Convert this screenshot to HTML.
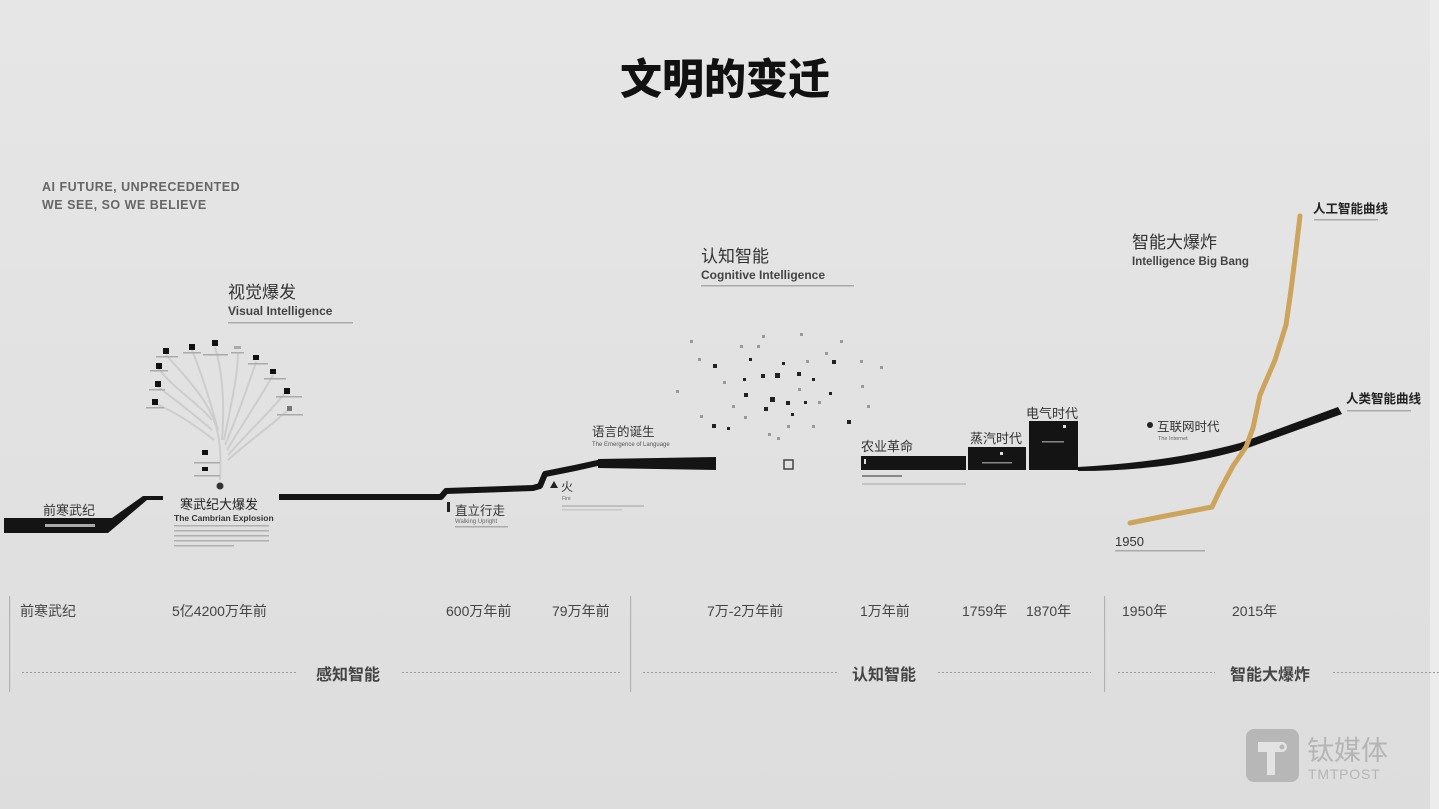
<!DOCTYPE html>
<html><head><meta charset="utf-8">
<style>
html,body{margin:0;padding:0;}
body{width:1439px;height:809px;overflow:hidden;background:linear-gradient(#e6e6e6,#e2e2e2 50%,#dddddd);font-family:"Liberation Sans","Noto Sans CJK SC",sans-serif;}
svg{display:block;}
.cn{font-family:"Liberation Sans","Noto Sans CJK SC",sans-serif;}
</style></head>
<body>
<svg width="1439" height="809" viewBox="0 0 1439 809" xmlns="http://www.w3.org/2000/svg">
<rect x="1430" y="0" width="9" height="809" fill="#ececec"/>
<!-- Title -->
<text x="725" y="94" text-anchor="middle" class="cn" font-size="42" font-weight="900" fill="#111">文明的变迁</text>

<!-- slogan -->
<text x="42" y="191" font-size="12.5" font-weight="bold" fill="#666" letter-spacing="0.5">AI FUTURE, UNPRECEDENTED</text>
<text x="42" y="209" font-size="12.5" font-weight="bold" fill="#666" letter-spacing="0.5">WE SEE, SO WE BELIEVE</text>

<!-- Visual intelligence heading -->
<text x="228" y="298" class="cn" font-size="17" fill="#333">视觉爆发</text>
<text x="228" y="315" font-size="12" font-weight="bold" fill="#444">Visual Intelligence</text>
<rect x="228" y="322" width="125" height="1.5" fill="#aaa"/>

<!-- tree -->
<g stroke="#cdcdcd" stroke-width="2" fill="none">
<path d="M220,480 C222,440 218,420 200,395 C185,375 175,365 166,355"/>
<path d="M218,430 C210,400 200,370 192,350"/>
<path d="M222,440 C225,400 222,370 215,347"/>
<path d="M224,440 C232,400 238,375 238,352"/>
<path d="M225,445 C240,410 250,380 256,362"/>
<path d="M227,450 C245,420 262,395 273,375"/>
<path d="M228,455 C250,430 272,410 285,393"/>
<path d="M228,460 C250,440 272,425 288,410"/>
<path d="M212,420 C195,400 175,390 158,368"/>
<path d="M212,430 C195,415 175,400 157,386"/>
<path d="M214,440 C195,425 175,412 156,404"/>
</g>
<g fill="#111">
<rect x="163" y="348" width="6" height="6"/><rect x="189" y="344" width="6" height="6"/><rect x="212" y="340" width="6" height="6"/><rect x="253" y="355" width="6" height="5"/><rect x="270" y="369" width="6" height="5"/><rect x="284" y="388" width="6" height="6"/><rect x="156" y="363" width="6" height="6"/><rect x="155" y="381" width="6" height="6"/><rect x="152" y="399" width="6" height="6"/><rect x="202" y="450" width="6" height="5"/><rect x="202" y="467" width="6" height="4"/>
</g>
<rect x="234" y="346" width="7" height="3" fill="#aaa"/>
<rect x="287" y="406" width="5" height="5" fill="#777"/>
<g fill="#aaa">
<rect x="156" y="356" width="22" height="1.5"/><rect x="183" y="352" width="18" height="1.5"/><rect x="203" y="354" width="25" height="1.5"/><rect x="231" y="352" width="13" height="1.5"/><rect x="248" y="363" width="20" height="1.5"/><rect x="264" y="378" width="22" height="1.5"/><rect x="276" y="396" width="26" height="1.5"/><rect x="277" y="414" width="26" height="1.5"/><rect x="150" y="370" width="18" height="1.5"/><rect x="149" y="389" width="16" height="1.5"/><rect x="146" y="407" width="18" height="1.5"/><rect x="194" y="462" width="26" height="1.5"/><rect x="194" y="475" width="26" height="1.5"/>
</g>
<circle cx="220" cy="486" r="3.5" fill="#333"/>

<!-- Segment 1 -->
<polygon points="4,518 112,518 143,496 163,496 163,500 147,500 108,533 4,533" fill="#141414"/>
<text x="43" y="515" class="cn" font-size="13" fill="#333">前寒武纪</text>
<rect x="45" y="524" width="50" height="3" fill="#aaa"/>
<text x="180" y="509" class="cn" font-size="13" fill="#222">寒武纪大爆发</text>
<text x="174" y="521" font-size="8.5" font-weight="bold" fill="#333">The Cambrian Explosion</text>
<g fill="#b0b0b0"><rect x="174" y="525" width="95" height="1.5"/><rect x="174" y="530" width="95" height="1.5"/><rect x="174" y="535" width="95" height="1.5"/><rect x="174" y="540" width="95" height="1.5"/><rect x="174" y="545" width="60" height="1.5"/></g>

<!-- Segment 2 -->
<polyline points="279,497 441,497 446,491 533,488 540,486 545,474 575,468 602,462" fill="none" stroke="#141414" stroke-width="6" stroke-linejoin="round"/>
<polygon points="598,459 716,457 716,470 598,468" fill="#141414"/>
<rect x="447" y="502" width="3" height="10" fill="#222"/>
<text x="455" y="515" class="cn" font-size="12.5" fill="#333">直立行走</text>
<text x="455" y="523" font-size="6" fill="#666">Walking Upright</text>
<rect x="455" y="526" width="53" height="1.5" fill="#aaa"/>
<polygon points="550,488 554,481 558,488" fill="#222"/>
<text x="561" y="491" class="cn" font-size="12" fill="#333">火</text>
<text x="562" y="500" font-size="5" fill="#666">Fire</text>
<rect x="562" y="505" width="82" height="2" fill="#c0c0c0"/>
<rect x="562" y="509" width="60" height="1.5" fill="#c8c8c8"/>
<text x="592" y="436" class="cn" font-size="12.5" fill="#333">语言的诞生</text>
<text x="592" y="446" font-size="6" fill="#555">The Emergence of Language</text>

<!-- Cognitive heading -->
<text x="701" y="262" class="cn" font-size="17" fill="#333">认知智能</text>
<text x="701" y="279" font-size="12" font-weight="bold" fill="#444">Cognitive Intelligence</text>
<rect x="701" y="285" width="153" height="1.5" fill="#aaa"/>

<!-- scatter -->
<g fill="#222">
<rect x="775" y="373" width="5" height="5"/><rect x="770" y="397" width="5" height="5"/><rect x="786" y="401" width="4" height="4"/><rect x="761" y="374" width="4" height="4"/><rect x="797" y="372" width="4" height="4"/><rect x="744" y="393" width="4" height="4"/><rect x="749" y="358" width="3" height="3"/><rect x="782" y="362" width="3" height="3"/><rect x="832" y="360" width="4" height="4"/><rect x="713" y="364" width="4" height="4"/><rect x="712" y="424" width="4" height="4"/><rect x="727" y="427" width="3" height="3"/><rect x="847" y="420" width="4" height="4"/><rect x="764" y="407" width="4" height="4"/><rect x="812" y="378" width="3" height="3"/><rect x="829" y="392" width="3" height="3"/><rect x="804" y="401" width="3" height="3"/><rect x="791" y="413" width="3" height="3"/><rect x="743" y="378" width="3" height="3"/>
</g>
<g fill="#999">
<rect x="757" y="345" width="3" height="3"/><rect x="698" y="358" width="3" height="3"/><rect x="723" y="381" width="3" height="3"/><rect x="825" y="352" width="3" height="3"/><rect x="861" y="385" width="3" height="3"/><rect x="676" y="390" width="3" height="3"/><rect x="806" y="360" width="3" height="3"/><rect x="798" y="388" width="3" height="3"/><rect x="818" y="401" width="3" height="3"/><rect x="744" y="416" width="3" height="3"/><rect x="768" y="433" width="3" height="3"/><rect x="777" y="437" width="3" height="3"/><rect x="867" y="405" width="3" height="3"/><rect x="880" y="366" width="3" height="3"/><rect x="700" y="415" width="3" height="3"/><rect x="762" y="335" width="3" height="3"/><rect x="800" y="333" width="3" height="3"/><rect x="840" y="340" width="3" height="3"/><rect x="690" y="340" width="3" height="3"/><rect x="740" y="345" width="3" height="3"/><rect x="860" y="360" width="3" height="3"/><rect x="787" y="425" width="3" height="3"/><rect x="732" y="405" width="3" height="3"/><rect x="812" y="425" width="3" height="3"/>
</g>
<rect x="784" y="460" width="9" height="9" fill="none" stroke="#444" stroke-width="1.5"/>

<!-- Segment 3 -->
<rect x="861" y="456" width="105" height="14" fill="#141414"/>
<rect x="968" y="447" width="58" height="23" fill="#141414"/>
<rect x="1029" y="421" width="49" height="49" fill="#141414"/>
<rect x="864" y="459" width="2" height="5" fill="#ddd"/>
<rect x="1000" y="452" width="3" height="3" fill="#ddd"/>
<rect x="1063" y="425" width="3" height="3" fill="#ddd"/>
<rect x="982" y="462" width="30" height="1.5" fill="#888"/>
<rect x="1042" y="441" width="22" height="1.5" fill="#888"/>
<text x="861" y="451" class="cn" font-size="13" fill="#333">农业革命</text>
<rect x="862" y="475" width="40" height="2" fill="#888"/>
<rect x="862" y="483" width="104" height="2" fill="#c4c4c4"/>
<text x="970" y="443" class="cn" font-size="13" fill="#333">蒸汽时代</text>
<text x="1026" y="418" class="cn" font-size="13" fill="#333">电气时代</text>
<path d="M1078,467 Q1170,462 1240,443 L1338,407 L1342,414 L1245,449 Q1170,471 1078,471 Z" fill="#141414"/>

<!-- gold curve -->
<polyline points="1130,523 1160,517 1212,507 1220,490 1233,466 1246,447 1253,428 1260,395 1275,360 1286,325 1291,290 1296,250 1300,216" fill="none" stroke="#cda45c" stroke-width="5" stroke-linejoin="round" stroke-linecap="round"/>

<circle cx="1150" cy="425" r="3" fill="#222"/>
<text x="1157" y="431" class="cn" font-size="12.5" fill="#333">互联网时代</text>
<text x="1158" y="440" font-size="5.5" fill="#666">The Internet</text>
<text x="1115" y="546" font-size="13" fill="#333">1950</text>
<rect x="1115" y="550" width="90" height="1.5" fill="#aaa"/>
<text x="1132" y="248" class="cn" font-size="17" fill="#333">智能大爆炸</text>
<text x="1132" y="265" font-size="11.5" font-weight="bold" fill="#444">Intelligence Big Bang</text>
<text x="1313" y="213" class="cn" font-size="12.5" font-weight="bold" fill="#222">人工智能曲线</text>
<rect x="1314" y="219" width="64" height="1.5" fill="#aaa"/>
<text x="1346" y="403" class="cn" font-size="12.5" font-weight="bold" fill="#222">人类智能曲线</text>
<rect x="1347" y="410" width="64" height="1.5" fill="#aaa"/>

<!-- Axis -->
<g fill="#b3b3b3">
<rect x="9" y="596" width="1.2" height="96"/>
<rect x="630" y="596" width="1.2" height="96"/>
<rect x="1104" y="596" width="1.2" height="96"/>
</g>
<g class="cn" font-size="14" fill="#444">
<text x="20" y="616">前寒武纪</text>
<text x="172" y="616">5亿4200万年前</text>
<text x="446" y="616">600万年前</text>
<text x="552" y="616">79万年前</text>
<text x="707" y="616">7万-2万年前</text>
<text x="860" y="616">1万年前</text>
<text x="962" y="616">1759年</text>
<text x="1026" y="616">1870年</text>
<text x="1122" y="616">1950年</text>
<text x="1232" y="616">2015年</text>
</g>
<g stroke="#9a9a9a" stroke-width="1" stroke-dasharray="2,2">
<line x1="22" y1="672.5" x2="298" y2="672.5"/>
<line x1="402" y1="672.5" x2="620" y2="672.5"/>
<line x1="643" y1="672.5" x2="838" y2="672.5"/>
<line x1="938" y1="672.5" x2="1091" y2="672.5"/>
<line x1="1118" y1="672.5" x2="1215" y2="672.5"/>
<line x1="1333" y1="672.5" x2="1439" y2="672.5"/>
</g>
<g class="cn" font-size="16" font-weight="bold" fill="#444">
<text x="316" y="680">感知智能</text>
<text x="852" y="680">认知智能</text>
<text x="1230" y="680">智能大爆炸</text>
</g>

<!-- watermark -->
<rect x="1246" y="729" width="53" height="53" rx="8" fill="#b7b7b7"/>
<path d="M1258,742 h24 a5,5 0 0 1 0,10 h-7 v23 h-8 v-23 h-9 z" fill="#e3e3e3"/>
<circle cx="1282" cy="747" r="2.5" fill="#b7b7b7"/>
<text x="1307" y="760" class="cn" font-size="27" fill="#b5b5b5">钛媒体</text>
<text x="1308" y="779" font-size="14" fill="#b5b5b5" letter-spacing="0.8">TMTPOST</text>
</svg>
</body></html>
